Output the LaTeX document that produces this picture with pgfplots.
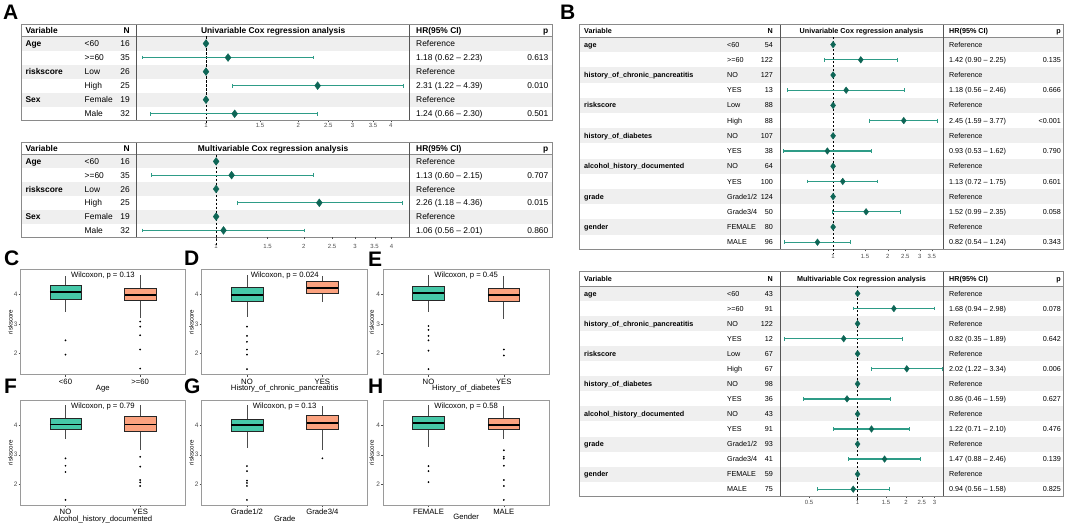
\documentclass[border=0pt]{standalone}
\usepackage{fontspec}
\setmainfont{Liberation Sans}
\usepackage{pgfplots}
\pgfplotsset{compat=1.18}
\usepgfplotslibrary{statistics}

\definecolor{bandgray}{HTML}{EFEFEF}
\definecolor{bordergray}{HTML}{8A8A8A}
\definecolor{sepgray}{HTML}{555555}
\definecolor{ciline}{HTML}{2E9C87}
\definecolor{diam}{HTML}{0E6656}
\definecolor{boxteal}{HTML}{46C8A8}
\definecolor{boxorange}{HTML}{FBA27F}
\definecolor{framegray}{HTML}{9A9A9A}
\definecolor{ticktext}{HTML}{4D4D4D}

\newcommand{\ff}{\fontsize{8.4}{10}\selectfont}
\newcommand{\cV}{25.3}\newcommand{\cL}{84.5}\newcommand{\cN}{130}\newcommand{\cH}{416}\newcommand{\cP}{548.5}

% left right top hdrbottom rowh bands bottom sepL sepR
\newcommand{\ftable}[9]{%
  \foreach \i in {#6} {%
    \pgfmathsetmacro{\ya}{#4+\i*#5}%
    \pgfmathsetmacro{\yb}{#4+(\i+1)*#5}%
    \fill[bandgray] (#1pt,{-(\ya)*1pt}) rectangle (#2pt,{-(\yb)*1pt});
  }
  \draw[bordergray,line width=0.5pt] (#1pt,-#4pt) -- (#2pt,-#4pt);
  \draw[sepgray,line width=0.9pt] (#8pt,-#3pt) -- (#8pt,-#7pt) (#9pt,-#3pt) -- (#9pt,-#7pt);
  \draw[bordergray,line width=0.8pt] (#1pt,-#3pt) rectangle (#2pt,-#7pt);
}
\newcommand{\frow}[6]{%
  \node[anchor=base west,inner sep=0pt,font=\ff\bfseries] at (\cV pt,-#1pt) {#2};
  \node[anchor=base west,inner sep=0pt,font=\ff] at (\cL pt,-#1pt) {#3};
  \node[anchor=base east,inner sep=0pt,font=\ff] at (\cN pt,-#1pt) {#4};
  \node[anchor=base west,inner sep=0pt,font=\ff] at (\cH pt,-#1pt) {#5};
  \node[anchor=base east,inner sep=0pt,font=\ff] at (\cP pt,-#1pt) {#6};
}
\newcommand{\fhead}[3]{%
  \node[anchor=base west,inner sep=0pt,font=\ff\bfseries] at (\cV pt,-#1pt) {Variable};
  \node[anchor=base east,inner sep=0pt,font=\ff\bfseries] at (\cN pt,-#1pt) {N};
  \node[anchor=base,inner sep=0pt,font=\ff\bfseries] at (#2pt,-#1pt) {#3};
  \node[anchor=base west,inner sep=0pt,font=\ff\bfseries] at (\cH pt,-#1pt) {HR(95\% CI)};
  \node[anchor=base east,inner sep=0pt,font=\ff\bfseries] at (\cP pt,-#1pt) {p};
}
\newcommand{\bfont}{\fontsize{7.7}{9}\selectfont}

\pgfplotsset{
  fplt/.style={scale only axis, anchor=north west, y dir=reverse, ymin=0.5,
    axis line style={draw=none}, ytick=\empty, xtick pos=bottom,
    tick align=outside, major tick length=1.5pt, tick style={ticktext, line width=0.3pt},
    xticklabel style={font=\fontsize{6}{7}\selectfont, text=ticktext, inner sep=1pt},
    clip=false},
  cibar/.style={color=ciline, line width=1.35pt, mark=|, mark size=1.9pt, mark options={solid, line width=0.7pt, draw=ciline}},
  diamk/.style={only marks, mark=diamond*, mark size=#1, mark options={draw=diam, fill=diam}},
  dashln/.style={black, line width=0.6pt, dash pattern=on 2.2pt off 1.8pt},
  bxpanel/.style={scale only axis, anchor=north west, height=105pt,
    ymin=1.3, ymax=4.83, ytick={2,3,4}, yticklabels={2,3,4}, xtick={1,2},
    xmin=0.4, xmax=2.6,
    axis line style={framegray, line width=0.7pt},
    ytick pos=left, xtick pos=bottom, tick align=outside,
    major tick length=2pt, tick style={ticktext, line width=0.4pt},
    yticklabel style={font=\fontsize{6.5}{7}\selectfont, text=ticktext, inner sep=1pt},
    xticklabel style={font=\bfont, inner sep=0pt, anchor=base, yshift=-7.5pt},
    clip=false,
    boxplot/draw direction=y,
    boxplot/box extend=0.42,
    boxplot/whisker extend=0,
    boxplot/every median/.style={draw=black, line width=1.6pt},
    boxplot/every whisker/.style={draw=black!70, line width=0.9pt}},
  bxfill/.style={draw=black!85, line width=0.6pt, boxplot/every box/.append style={fill=#1}, mark=*, mark size=0.55pt, mark options={fill=black, draw=black}},
}

\begin{document}
\begin{tikzpicture}
\path[use as bounding box] (0pt,0pt) rectangle (1065pt,-524pt);

% panel letters
\foreach \L/\x/\y in {A/3/5,B/560/5,C/4/251,D/184/251,E/368/252,F/4/379,G/184/379,H/368/379}{
  \node[anchor=north west, inner sep=0pt, font=\fontsize{21}{21}\selectfont\bfseries] at (\x pt,-\y pt) {\L};
}

% ================= A top =================
\ftable{21.3}{552.7}{24.3}{36.5}{14.05}{0,2,4}{120.8}{136.5}{409.8}
\fhead{33.4}{273.15}{Univariable Cox regression analysis}
\frow{46.5}{Age}{<60}{16}{Reference}{}
\frow{60.6}{}{>=60}{35}{1.18 (0.62 -- 2.23)}{0.613}
\frow{74.6}{riskscore}{Low}{26}{Reference}{}
\frow{88.7}{}{High}{25}{2.31 (1.22 -- 4.39)}{0.010}
\frow{102.7}{Sex}{Female}{19}{Reference}{}
\frow{116.8}{}{Male}{32}{1.24 (0.66 -- 2.30)}{0.501}
\begin{axis}[fplt, xmode=log, at={(136.5pt,-36.5pt)}, width=273.3pt, height=84.3pt,
  xmin=0.594, xmax=4.61, ymax=6.5,
  xtick={1,1.5,2,2.5,3,3.5,4}, xticklabels={1,1.5,2,2.5,3,3.5,4}]
\addplot[dashln] coordinates {(1,0.5) (1,6.75)};
\addplot[cibar] coordinates {(0.62,2) (2.23,2)};
\addplot[cibar] coordinates {(1.22,4) (4.39,4)};
\addplot[cibar] coordinates {(0.66,6) (2.30,6)};
\addplot[diamk=3.9pt] coordinates {(1,1) (1.18,2) (1,3) (2.31,4) (1,5) (1.24,6)};
\end{axis}

% ================= A bottom =================
\ftable{21.3}{552.7}{142.8}{154.5}{13.8}{0,2,4}{237.3}{136.5}{409.8}
\fhead{151.7}{273.15}{Multivariable Cox regression analysis}
\frow{164.4}{Age}{<60}{16}{Reference}{}
\frow{178.2}{}{>=60}{35}{1.13 (0.60 -- 2.15)}{0.707}
\frow{192.0}{riskscore}{Low}{26}{Reference}{}
\frow{205.8}{}{High}{25}{2.26 (1.18 -- 4.36)}{0.015}
\frow{219.6}{Sex}{Female}{19}{Reference}{}
\frow{233.4}{}{Male}{32}{1.06 (0.56 -- 2.01)}{0.860}
\begin{axis}[fplt, xmode=log, at={(136.5pt,-154.5pt)}, width=273.3pt, height=82.8pt,
  xmin=0.533, xmax=4.62, ymax=6.5,
  xtick={1,1.5,2,2.5,3,3.5,4}, xticklabels={1,1.5,2,2.5,3,3.5,4},
  xticklabel style={yshift=-4.5pt}]
\addplot[dashln] coordinates {(1,0.5) (1,7.1)};
\addplot[cibar] coordinates {(0.60,2) (2.15,2)};
\addplot[cibar] coordinates {(1.18,4) (4.36,4)};
\addplot[cibar] coordinates {(0.56,6) (2.01,6)};
\addplot[diamk=3.9pt] coordinates {(1,1) (1.13,2) (1,3) (2.26,4) (1,5) (1.06,6)};
\end{axis}

% ================= B top =================
\renewcommand{\ff}{\fontsize{7.2}{9}\selectfont}
\renewcommand{\cV}{584}\renewcommand{\cL}{727}\renewcommand{\cN}{773}\renewcommand{\cH}{949}\renewcommand{\cP}{1061}
\ftable{579}{1063.5}{24.5}{37}{15.2}{0,2,4,6,8,10,12}{249.8}{780}{943}
\fhead{33.4}{861.5}{Univariable Cox regression analysis}
\frow{47.2}{age}{<60}{54}{Reference}{}
\frow{62.4}{}{>=60}{122}{1.42 (0.90 -- 2.25)}{0.135}
\frow{77.6}{history\_of\_chronic\_pancreatitis}{NO}{127}{Reference}{}
\frow{92.8}{}{YES}{13}{1.18 (0.56 -- 2.46)}{0.666}
\frow{108.0}{riskscore}{Low}{88}{Reference}{}
\frow{123.2}{}{High}{88}{2.45 (1.59 -- 3.77)}{<0.001}
\frow{138.4}{history\_of\_diabetes}{NO}{107}{Reference}{}
\frow{153.6}{}{YES}{38}{0.93 (0.53 -- 1.62)}{0.790}
\frow{168.8}{alcohol\_history\_documented}{NO}{64}{Reference}{}
\frow{184.0}{}{YES}{100}{1.13 (0.72 -- 1.75)}{0.601}
\frow{199.2}{grade}{Grade1/2}{124}{Reference}{}
\frow{214.4}{}{Grade3/4}{50}{1.52 (0.99 -- 2.35)}{0.058}
\frow{229.6}{gender}{FEMALE}{80}{Reference}{}
\frow{244.8}{}{MALE}{96}{0.82 (0.54 -- 1.24)}{0.343}
\begin{axis}[fplt, xmode=log, at={(780pt,-37pt)}, width=163pt, height=212.8pt,
  xmin=0.51, xmax=4.03, ymax=14.5,
  xtick={1,1.5,2,2.5,3,3.5}, xticklabels={1,1.5,2,2.5,3,3.5},
  xticklabel style={yshift=-2pt}]
\addplot[dashln] coordinates {(1,0.5) (1,14.75)};
\addplot[cibar] coordinates {(0.90,2) (2.25,2)};
\addplot[cibar] coordinates {(0.56,4) (2.46,4)};
\addplot[cibar] coordinates {(1.59,6) (3.77,6)};
\addplot[cibar] coordinates {(0.53,8) (1.62,8)};
\addplot[cibar] coordinates {(0.72,10) (1.75,10)};
\addplot[cibar] coordinates {(0.99,12) (2.35,12)};
\addplot[cibar] coordinates {(0.54,14) (1.24,14)};
\addplot[diamk=3.3pt] coordinates {(1,1) (1.42,2) (1,3) (1.18,4) (1,5) (2.45,6) (1,7) (0.93,8) (1,9) (1.13,10) (1,11) (1.52,12) (1,13) (0.82,14)};
\end{axis}

% ================= B bottom =================
\ftable{579}{1063.5}{271}{286}{15.05}{0,2,4,6,8,10,12}{496.7}{780}{943}
\fhead{281.1}{861.5}{Multivariable Cox regression analysis}
\frow{296.1}{age}{<60}{43}{Reference}{}
\frow{311.2}{}{>=60}{91}{1.68 (0.94 -- 2.98)}{0.078}
\frow{326.2}{history\_of\_chronic\_pancreatitis}{NO}{122}{Reference}{}
\frow{341.3}{}{YES}{12}{0.82 (0.35 -- 1.89)}{0.642}
\frow{356.3}{riskscore}{Low}{67}{Reference}{}
\frow{371.4}{}{High}{67}{2.02 (1.22 -- 3.34)}{0.006}
\frow{386.4}{history\_of\_diabetes}{NO}{98}{Reference}{}
\frow{401.5}{}{YES}{36}{0.86 (0.46 -- 1.59)}{0.627}
\frow{416.5}{alcohol\_history\_documented}{NO}{43}{Reference}{}
\frow{431.6}{}{YES}{91}{1.22 (0.71 -- 2.10)}{0.476}
\frow{446.6}{grade}{Grade1/2}{93}{Reference}{}
\frow{461.7}{}{Grade3/4}{41}{1.47 (0.88 -- 2.46)}{0.139}
\frow{476.7}{gender}{FEMALE}{59}{Reference}{}
\frow{491.8}{}{MALE}{75}{0.94 (0.56 -- 1.58)}{0.825}
\begin{axis}[fplt, xmode=log, at={(780pt,-286pt)}, width=163pt, height=210.7pt,
  xmin=0.33, xmax=3.39, ymax=14.5,
  xtick={0.5,1,1.5,2,2.5,3}, xticklabels={0.5,1,1.5,2,2.5,3},
  xticklabel style={yshift=-1pt}]
\addplot[dashln] coordinates {(1,0.5) (1,14.7)};
\addplot[cibar] coordinates {(0.94,2) (2.98,2)};
\addplot[cibar] coordinates {(0.35,4) (1.89,4)};
\addplot[cibar] coordinates {(1.22,6) (3.34,6)};
\addplot[cibar] coordinates {(0.46,8) (1.59,8)};
\addplot[cibar] coordinates {(0.71,10) (2.10,10)};
\addplot[cibar] coordinates {(0.88,12) (2.46,12)};
\addplot[cibar] coordinates {(0.56,14) (1.58,14)};
\addplot[diamk=3.3pt] coordinates {(1,1) (1.68,2) (1,3) (0.82,4) (1,5) (2.02,6) (1,7) (0.86,8) (1,9) (1.22,10) (1,11) (1.47,12) (1,13) (0.94,14)};
\end{axis}

% ================= Boxplots =================
% C
\begin{axis}[bxpanel, at={(20.7pt,-269.5pt)}, width=164.3pt, xticklabels={{<60},{>=60}}]
\addplot[bxfill=boxteal, boxplot prepared={lower whisker=3.39, lower quartile=3.84, median=4.08, upper quartile=4.31, upper whisker=4.60, draw position=1}] table[row sep=\\, y index=0] {v\\ 2.45\\ 1.97\\};
\addplot[bxfill=boxorange, boxplot prepared={lower whisker=3.19, lower quartile=3.81, median=3.97, upper quartile=4.19, upper whisker=4.64, draw position=2}] table[row sep=\\, y index=0] {v\\ 3.08\\ 2.91\\ 2.62\\ 2.14\\ 1.50\\};
\node[font=\bfont] at (axis cs:1.5,4.83) [yshift=-6.5pt] {Wilcoxon, p = 0.13};
\node[font=\bfont] at (axis cs:1.5,1.3) [yshift=-13.9pt] {Age};
\node[rotate=90, font=\fontsize{6.2}{7}\selectfont] at (rel axis cs:-0.062,0.5) {riskscore};
\end{axis}
% D
\begin{axis}[bxpanel, at={(201.7pt,-269.5pt)}, width=166pt, xticklabels={NO,YES}]
\addplot[bxfill=boxteal, boxplot prepared={lower whisker=3.25, lower quartile=3.77, median=3.97, upper quartile=4.22, upper whisker=4.64, draw position=1}] table[row sep=\\, y index=0] {v\\ 2.91\\ 2.60\\ 2.40\\ 2.14\\ 1.97\\ 1.48\\};
\addplot[bxfill=boxorange, boxplot prepared={lower whisker=3.73, lower quartile=4.04, median=4.20, upper quartile=4.45, upper whisker=4.62, draw position=2}] coordinates {};
\node[font=\bfont] at (axis cs:1.5,4.83) [yshift=-6.5pt] {Wilcoxon, p = 0.024};
\node[font=\bfont] at (axis cs:1.5,1.3) [yshift=-13.9pt] {History\_of\_chronic\_pancreatitis};
\node[rotate=90, font=\fontsize{6.2}{7}\selectfont] at (rel axis cs:-0.062,0.5) {riskscore};
\end{axis}
% E
\begin{axis}[bxpanel, at={(383.3pt,-269.5pt)}, width=165.7pt, xticklabels={NO,YES}]
\addplot[bxfill=boxteal, boxplot prepared={lower whisker=3.41, lower quartile=3.81, median=4.04, upper quartile=4.28, upper whisker=4.64, draw position=1}] table[row sep=\\, y index=0] {v\\ 2.93\\ 2.80\\ 2.60\\ 2.45\\ 2.10\\ 1.48\\};
\addplot[bxfill=boxorange, boxplot prepared={lower whisker=3.17, lower quartile=3.77, median=3.98, upper quartile=4.20, upper whisker=4.62, draw position=2}] table[row sep=\\, y index=0] {v\\ 2.14\\ 1.94\\};
\node[font=\bfont] at (axis cs:1.5,4.83) [yshift=-6.5pt] {Wilcoxon, p = 0.45};
\node[font=\bfont] at (axis cs:1.5,1.3) [yshift=-13.9pt] {History\_of\_diabetes};
\node[rotate=90, font=\fontsize{6.2}{7}\selectfont] at (rel axis cs:-0.07,0.5) {riskscore};
\end{axis}
% F
\begin{axis}[bxpanel, at={(20.7pt,-400.3pt)}, width=164.3pt, xticklabels={NO,YES}]
\addplot[bxfill=boxteal, boxplot prepared={lower whisker=3.53, lower quartile=3.84, median=4.02, upper quartile=4.24, upper whisker=4.66, draw position=1}] table[row sep=\\, y index=0] {v\\ 2.88\\ 2.63\\ 2.42\\ 1.48\\};
\addplot[bxfill=boxorange, boxplot prepared={lower whisker=3.17, lower quartile=3.79, median=4.02, upper quartile=4.30, upper whisker=4.66, draw position=2}] table[row sep=\\, y index=0] {v\\ 2.93\\ 2.60\\ 2.15\\ 2.07\\ 1.95\\};
\node[font=\bfont] at (axis cs:1.5,4.83) [yshift=-6.5pt] {Wilcoxon, p = 0.79};
\node[font=\bfont] at (axis cs:1.5,1.3) [yshift=-14.7pt] {Alcohol\_history\_documented};
\node[rotate=90, font=\fontsize{6.2}{7}\selectfont] at (rel axis cs:-0.062,0.5) {riskscore};
\end{axis}
% G
\begin{axis}[bxpanel, at={(201.7pt,-400.3pt)}, width=166pt, xticklabels={Grade1/2,Grade3/4}]
\addplot[bxfill=boxteal, boxplot prepared={lower whisker=3.22, lower quartile=3.80, median=4.00, upper quartile=4.20, upper whisker=4.66, draw position=1}] table[row sep=\\, y index=0] {v\\ 2.62\\ 2.45\\ 2.13\\ 2.05\\ 1.95\\ 1.48\\};
\addplot[bxfill=boxorange, boxplot prepared={lower whisker=3.17, lower quartile=3.84, median=4.06, upper quartile=4.34, upper whisker=4.63, draw position=2}] table[row sep=\\, y index=0] {v\\ 2.88\\};
\node[font=\bfont] at (axis cs:1.5,4.83) [yshift=-6.5pt] {Wilcoxon, p = 0.13};
\node[font=\bfont] at (axis cs:1.5,1.3) [yshift=-13.1pt] {Grade};
\node[rotate=90, font=\fontsize{6.2}{7}\selectfont] at (rel axis cs:-0.062,0.5) {riskscore};
\end{axis}
% H
\begin{axis}[bxpanel, at={(383.3pt,-400.3pt)}, width=165.7pt, xticklabels={FEMALE,MALE}]
\addplot[bxfill=boxteal, boxplot prepared={lower whisker=3.25, lower quartile=3.84, median=4.06, upper quartile=4.28, upper whisker=4.66, draw position=1}] table[row sep=\\, y index=0] {v\\ 2.62\\ 2.45\\ 2.08\\};
\addplot[bxfill=boxorange, boxplot prepared={lower whisker=3.53, lower quartile=3.84, median=4.00, upper quartile=4.24, upper whisker=4.63, draw position=2}] table[row sep=\\, y index=0] {v\\ 3.15\\ 2.93\\ 2.87\\ 2.63\\ 2.15\\ 1.95\\ 1.48\\};
\node[font=\bfont] at (axis cs:1.5,4.83) [yshift=-6.5pt] {Wilcoxon, p = 0.58};
\node[font=\bfont] at (axis cs:1.5,1.3) [yshift=-11.5pt] {Gender};
\node[rotate=90, font=\fontsize{6.2}{7}\selectfont] at (rel axis cs:-0.07,0.5) {riskscore};
\end{axis}

\end{tikzpicture}
\end{document}
